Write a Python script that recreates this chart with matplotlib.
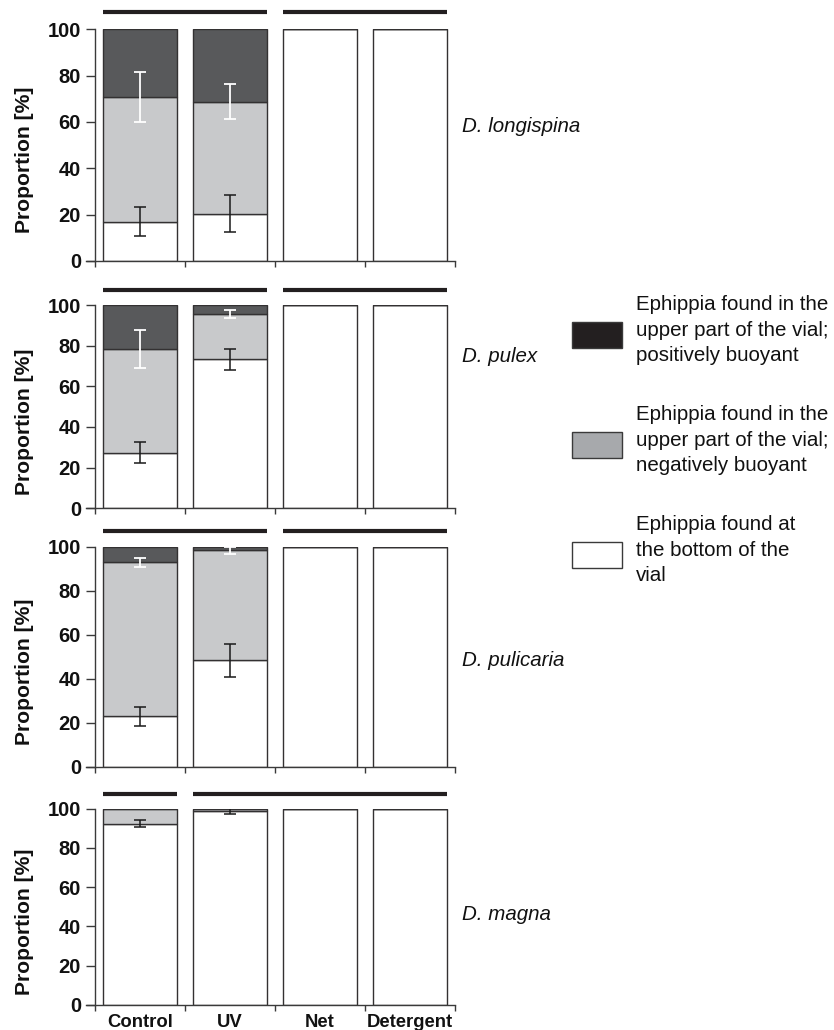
import matplotlib
matplotlib.use("Agg")
import matplotlib.pyplot as plt
from matplotlib.patches import Rectangle

plt.rcParams["font.family"] = ["Liberation Sans", "DejaVu Sans"]

categories = ["Control", "UV", "Net", "Detergent"]
species = ["D. longispina", "D. pulex", "D. pulicaria", "D. magna"]

# Proportions [%] for each species (rows) and treatment (columns)
bottom_pct = [[16.9, 20.4, 100, 100],
              [27.4, 73.3, 100, 100],
              [22.9, 48.4, 100, 100],
              [92.4, 99.0, 100, 100]]
neg_buoyant_pct = [[53.9, 48.4, 0, 0],
                   [51.0, 22.3, 0, 0],
                   [70.0, 50.0, 0, 0],
                   [7.6, 1.0, 0, 0]]
pos_buoyant_pct = [[29.2, 31.2, 0, 0],
                   [21.6, 4.4, 0, 0],
                   [7.1, 1.6, 0, 0],
                   [0.0, 0.0, 0, 0]]

# Standard errors at the top of the bottom segment and of the middle segment
bottom_err = [[6.2, 7.9, 0, 0],
              [5.3, 5.1, 0, 0],
              [4.3, 7.5, 0, 0],
              [1.8, 1.7, 0, 0]]
neg_err = [[10.6, 7.7, 0, 0],
           [9.5, 1.8, 0, 0],
           [1.9, 1.5, 0, 0],
           [0, 0, 0, 0]]

# Treatments that do not differ significantly (grouped by a bar above)
groups = [[[0, 1], [2, 3]],
          [[0, 1], [2, 3]],
          [[0, 1], [2, 3]],
          [[0], [1, 2, 3]]]

legend_labels = ["Ephippia found in the\nupper part of the vial;\npositively buoyant",
                 "Ephippia found in the\nupper part of the vial;\nnegatively buoyant",
                 "Ephippia found at\nthe bottom of the\nvial"]

W, H = 834, 1030
fig = plt.figure(figsize=(W / 100, H / 100), dpi=100)

DARK = "#58595b"
LIGHT = "#c8c9cb"
EDGE = "#333132"
AXIS = "#3a3a3a"

# axes boxes in pixels: (top of 100 %, 0 % line)
panel_px = [(29.3, 261.0), (305.0, 508.3), (546.7, 766.7), (808.7, 1005.0)]
ax_left_px, ax_right_px = 86, 455
label_y_px = [127, 356, 661, 914]

bar_w = 0.83
x = [i + 0.5 for i in range(len(categories))]

for k, (top_px, zero_px) in enumerate(panel_px):
    ax = fig.add_axes([ax_left_px / W, 1 - zero_px / H,
                       (ax_right_px - ax_left_px) / W, (zero_px - top_px) / H])
    b = bottom_pct[k]
    m = neg_buoyant_pct[k]
    t = pos_buoyant_pct[k]
    mid_top = [bi + mi for bi, mi in zip(b, m)]
    ax.bar(x, b, width=bar_w, color="white", edgecolor=EDGE, linewidth=1.0, zorder=2)
    ax.bar(x, m, bottom=b, width=bar_w, color=LIGHT, edgecolor=EDGE, linewidth=1.0, zorder=2)
    ax.bar(x, t, bottom=mid_top, width=bar_w, color=DARK, edgecolor=EDGE, linewidth=1.0, zorder=2)

    for i in range(len(categories)):
        if bottom_err[k][i] > 0:
            ax.errorbar(x[i], b[i], yerr=bottom_err[k][i], color="#1a1a1a",
                        elinewidth=1.1, capsize=4, capthick=1.1, zorder=4)
        if neg_err[k][i] > 0:
            ax.errorbar(x[i], mid_top[i], yerr=neg_err[k][i], color="white",
                        elinewidth=1.3, capsize=4, capthick=1.3, zorder=4)

    # group bars above the plot
    for g in groups[k]:
        x0 = x[g[0]] - bar_w / 2
        x1 = x[g[-1]] + bar_w / 2
        ax.plot([x0, x1], [107.3, 107.3], color="#231f20", linewidth=3.0,
                solid_capstyle="butt", clip_on=False, zorder=5)

    ax.set_xlim(-0.1, 4.0)
    ax.set_ylim(0, 100)
    ax.set_yticks([0, 20, 40, 60, 80, 100])
    ax.set_xticks([0, 1, 2, 3, 4])
    ax.set_xticklabels([])
    ax.spines["left"].set_position(("data", 0))
    ax.tick_params(axis="y", direction="out", length=6.5, width=1.0, pad=3.5,
                   labelsize=14.5, colors=AXIS, labelcolor="#111111")
    ax.tick_params(axis="x", direction="out", length=4, width=1.0, colors=AXIS)
    for lab in ax.get_yticklabels():
        lab.set_fontweight("bold")
    for s in ["right", "top"]:
        ax.spines[s].set_visible(False)
    for s in ["left", "bottom"]:
        ax.spines[s].set_color(AXIS)
        ax.spines[s].set_linewidth(1.0)

    mid_px = (top_px + zero_px) / 2 + 15
    fig.text(25 / W, 1 - mid_px / H, "Proportion [%]", rotation=90,
             fontsize=15.2, fontweight="bold", ha="center", va="center",
             color="#111111")

    if k == len(panel_px) - 1:
        for xi, name in zip(x, categories):
            ax.text(xi, -4.5, name, ha="center", va="top", fontsize=13.3,
                    fontweight="bold", color="#111111", clip_on=False)

    fig.text(462 / W, 1 - label_y_px[k] / H, species[k], fontsize=14.8,
             style="italic", ha="left", va="center", color="#111111")

# legend drawn in figure pixels
leg_colors = ["#231f20", "#a7a9ac", "white"]
leg_centers = [335, 445, 555]
for col, cy, txt in zip(leg_colors, leg_centers, legend_labels):
    fig.patches.append(Rectangle((572 / W, 1 - (cy + 13) / H), 50 / W, 26 / H,
                                 transform=fig.transFigure, facecolor=col,
                                 edgecolor="#3a3a3a", linewidth=1.0))
    fig.text(636 / W, 1 - (cy - 5) / H, txt, fontsize=14.8, ha="left",
             va="center", linespacing=1.42, color="#111111")

fig.savefig("out.png", dpi=100)
